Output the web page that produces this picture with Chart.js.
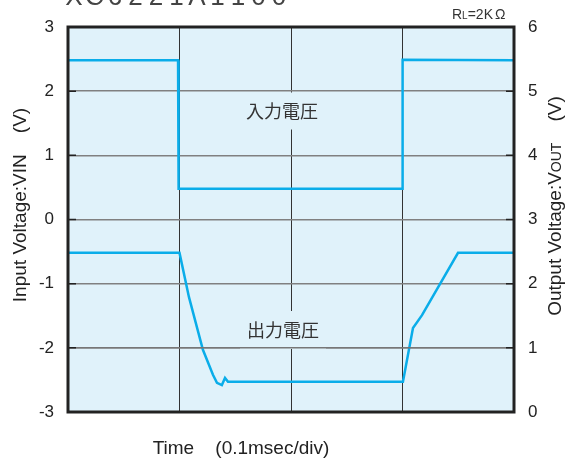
<!DOCTYPE html>
<html lang="ja">
<head>
  <meta charset="UTF-8">
  <title>Input / Output Voltage vs Time</title>
  <style>
    * { margin: 0; padding: 0; box-sizing: border-box; }
    body { background: #fff; width: 573px; height: 461px; overflow: hidden; }
    #chart { display: block; }
  </style>
</head>
<body>
  <canvas id="chart" width="573" height="461"></canvas>

  <script src="https://cdn.jsdelivr.net/npm/chart.js"></script>
  <script>
    // time in divisions (0.1 msec/div)
    const inTime = [0, 0.987, 0.992, 2.996, 3.001, 4];
    const inVolt = [2.48, 2.48, 0.48, 0.48, 2.49, 2.48];

    const outTime = [0, 1.0, 1.085, 1.21, 1.30, 1.336, 1.38, 1.408, 1.435, 3.004, 3.094, 3.175, 3.498, 4];
    const outVolt = [2.48, 2.48, 1.79, 0.97, 0.58, 0.455, 0.42, 0.53, 0.47, 0.47, 1.31, 1.51, 2.48, 2.48];

    const leftTicks = [-3, -2, -1, 0, 1, 2, 3];
    const rightTicks = [0, 1, 2, 3, 4, 5, 6];

    const lineColor = '#0aade9';
    const plotBg = '#e0f2fa';
    const font = '"Liberation Sans", Arial, sans-serif';
    const jpFont = '"Noto Sans CJK JP", sans-serif';

    const toPoints = (xs, ys) => xs.map((x, i) => ({ x: x, y: ys[i] }));

    // background, frame, inner tick marks, notes and titles
    const decor = {
      id: 'decor',
      beforeDraw(chart) {
        const { ctx, chartArea: a } = chart;
        ctx.save();
        ctx.fillStyle = plotBg;
        ctx.fillRect(a.left, a.top, a.right - a.left, a.bottom - a.top);
        ctx.restore();
      },
      afterDatasetsDraw(chart) {
        const { ctx, chartArea: a, scales } = chart;
        ctx.save();

        // labels with a patch of background behind them
        const label = (txt, cx, cy, bw, bh) => {
          ctx.fillStyle = plotBg;
          ctx.fillRect(cx - bw / 2, cy - bh / 2, bw, bh);
          ctx.fillStyle = '#333';
          ctx.font = '18px ' + jpFont;
          ctx.textAlign = 'center';
          ctx.textBaseline = 'middle';
          ctx.fillText(txt, cx, cy);
        };
        label('入力電圧', 282, 111, 88, 37);
        label('出力電圧', 283, 330, 86, 38);

        // redraw the horizontal grid line under the lower label
        ctx.strokeStyle = '#777';
        ctx.lineWidth = 1.5;
        ctx.beginPath();
        const yMinus2 = scales.y.getPixelForValue(-2);
        ctx.moveTo(a.left, yMinus2);
        ctx.lineTo(a.right, yMinus2);
        ctx.stroke();

        // short dark ticks at both ends of each horizontal grid line
        ctx.strokeStyle = '#222';
        ctx.lineWidth = 1.5;
        leftTicks.forEach(v => {
          const py = scales.y.getPixelForValue(v);
          ctx.beginPath();
          ctx.moveTo(a.left, py); ctx.lineTo(a.left + 8, py);
          ctx.moveTo(a.right - 8, py); ctx.lineTo(a.right, py);
          ctx.stroke();
        });

        // frame
        ctx.strokeStyle = '#222';
        ctx.lineWidth = 3;
        ctx.strokeRect(a.left, a.top, a.right - a.left, a.bottom - a.top);

        // RL=2KΩ note
        ctx.fillStyle = '#333';
        ctx.textBaseline = 'alphabetic';
        ctx.textAlign = 'left';
        let x = 452;
        const by = 19;
        const parts = [['R', 14], ['L', 10], ['=2K', 14], ['Ω', 14]];
        parts.forEach(([t, s], i) => {
          ctx.font = s + 'px ' + font;
          ctx.fillText(t, x, by);
          x += ctx.measureText(t).width + (i === 2 ? 2 : 0);
        });

        // cropped part name at the very top
        ctx.fillStyle = '#444';
        ctx.font = '26px ' + font;
        ctx.textAlign = 'center';
        const title = 'XC6221A1100';
        for (let i = 0; i < title.length; i++) {
          ctx.fillText(title[i], 74 + i * 20.5, 5);
        }

        // axis titles
        const rotated = (segs, cx, cy) => {
          ctx.save();
          ctx.translate(cx, cy);
          ctx.rotate(-Math.PI / 2);
          let w = 0;
          segs.forEach(([t, s]) => { ctx.font = s + 'px ' + font; w += ctx.measureText(t).width; });
          let px = -w / 2;
          ctx.textAlign = 'left';
          ctx.textBaseline = 'alphabetic';
          ctx.fillStyle = '#222';
          segs.forEach(([t, s]) => {
            ctx.font = s + 'px ' + font;
            ctx.fillText(t, px, 7);
            px += ctx.measureText(t).width;
          });
          ctx.restore();
        };
        rotated([['Input Voltage:V', 19], ['IN', 19], ['    (V)', 19]], 19, 205);
        rotated([['Output Voltage:V', 19], ['OUT', 14], ['    (V)', 19]], 554, 206);

        ctx.font = '19px ' + font;
        ctx.fillStyle = '#222';
        ctx.textAlign = 'center';
        ctx.textBaseline = 'alphabetic';
        ctx.fillText('Time    (0.1msec/div)', 241, 454);

        ctx.restore();
      }
    };

    new Chart(document.getElementById('chart'), {
      type: 'line',
      data: {
        datasets: [
          {
            label: 'VIN',
            data: toPoints(inTime, inVolt),
            yAxisID: 'y',
            borderColor: lineColor,
            borderWidth: 2.5,
            pointRadius: 0,
            tension: 0
          },
          {
            label: 'VOUT',
            data: toPoints(outTime, outVolt),
            yAxisID: 'y2',
            borderColor: lineColor,
            borderWidth: 2.5,
            pointRadius: 0,
            tension: 0
          }
        ]
      },
      options: {
        responsive: false,
        animation: false,
        devicePixelRatio: 1,
        layout: { padding: { top: 27, left: 0, right: 0, bottom: 0 } },
        plugins: { legend: { display: false }, tooltip: { enabled: false } },
        scales: {
          x: {
            type: 'linear',
            min: 0,
            max: 4,
            ticks: { display: false, stepSize: 1 },
            grid: { color: '#333', lineWidth: 1, drawTicks: false },
            border: { display: false },
            afterFit(s) { s.height = 49; }
          },
          y: {
            position: 'left',
            min: -3,
            max: 3,
            afterBuildTicks(s) { s.ticks = leftTicks.map(v => ({ value: v })); },
            ticks: { color: '#222', font: { family: font, size: 17 }, padding: 14 },
            grid: { color: '#808080', lineWidth: 1.5, drawTicks: false },
            border: { display: false },
            afterFit(s) { s.width = 68; }
          },
          y2: {
            position: 'right',
            min: 0,
            max: 6,
            afterBuildTicks(s) { s.ticks = rightTicks.map(v => ({ value: v })); },
            ticks: { color: '#222', font: { family: font, size: 17 }, padding: 14 },
            grid: { display: false, drawTicks: false },
            border: { display: false },
            afterFit(s) { s.width = 59; }
          }
        }
      },
      plugins: [decor]
    });
  </script>
</body>
</html>
